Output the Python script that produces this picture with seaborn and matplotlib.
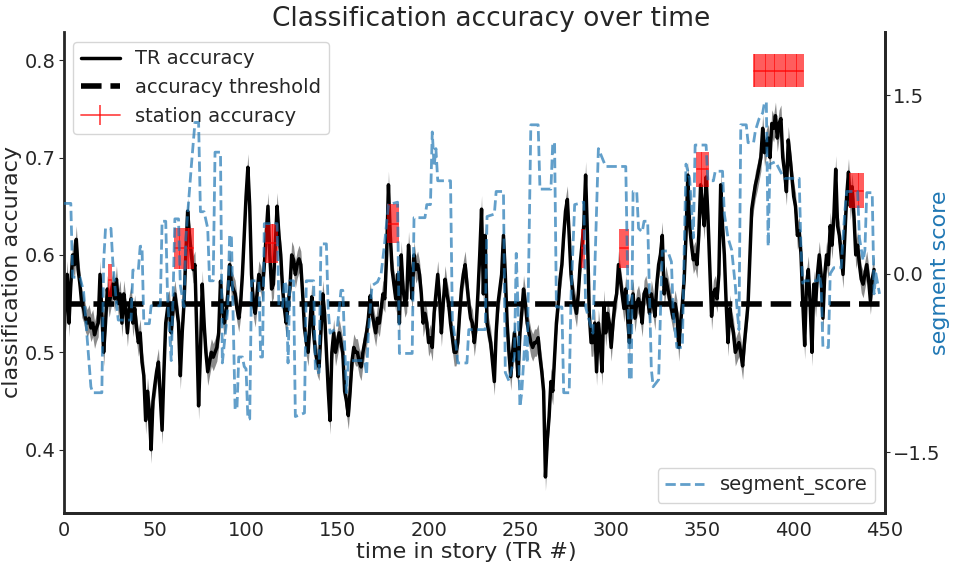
import numpy as np
import matplotlib
matplotlib.use("Agg")
import matplotlib.pyplot as plt
import seaborn as sns

# TR accuracy (one value per TR)
tr_acc = [
    0.50, 0.55, 0.58, 0.53, 0.57, 0.60, 0.59, 0.616, 0.585, 0.57,
    0.55, 0.545, 0.535, 0.53, 0.535, 0.525, 0.53, 0.518, 0.525, 0.53,
    0.58, 0.54, 0.50, 0.53, 0.565, 0.55, 0.56, 0.57, 0.555, 0.575,
    0.55, 0.56, 0.53, 0.56, 0.545, 0.52, 0.545, 0.555, 0.53, 0.545,
    0.525, 0.51, 0.52, 0.49, 0.476, 0.43, 0.46, 0.44, 0.40, 0.45,
    0.466, 0.48, 0.49, 0.455, 0.42, 0.48, 0.53, 0.545, 0.55, 0.52,
    0.545, 0.56, 0.545, 0.53, 0.476, 0.52, 0.55, 0.60, 0.645, 0.62,
    0.60, 0.585, 0.59, 0.52, 0.445, 0.50, 0.57, 0.53, 0.50, 0.48,
    0.49, 0.50, 0.495, 0.50, 0.505, 0.52, 0.573, 0.545, 0.53, 0.54,
    0.56, 0.59, 0.57, 0.565, 0.56, 0.545, 0.535, 0.55, 0.58, 0.62,
    0.66, 0.69, 0.65, 0.58, 0.55, 0.54, 0.56, 0.58, 0.575, 0.565,
    0.59, 0.62, 0.65, 0.60, 0.565, 0.57, 0.61, 0.65, 0.62, 0.60,
    0.565, 0.545, 0.53, 0.55, 0.565, 0.60, 0.595, 0.58, 0.59, 0.596,
    0.59, 0.56, 0.525, 0.51, 0.50, 0.53, 0.557, 0.52, 0.50, 0.49,
    0.485, 0.52, 0.56, 0.54, 0.50, 0.462, 0.43, 0.50, 0.52, 0.50,
    0.51, 0.52, 0.51, 0.50, 0.46, 0.45, 0.435, 0.46, 0.49, 0.505,
    0.50, 0.50, 0.49, 0.485, 0.50, 0.51, 0.52, 0.535, 0.558, 0.54,
    0.53, 0.52, 0.535, 0.53, 0.545, 0.56, 0.555, 0.60, 0.672, 0.62,
    0.585, 0.57, 0.555, 0.58, 0.53, 0.60, 0.565, 0.55, 0.555, 0.61,
    0.58, 0.555, 0.60, 0.585, 0.59, 0.58, 0.56, 0.53, 0.54, 0.53,
    0.51, 0.515, 0.505, 0.54, 0.56, 0.58, 0.555, 0.52, 0.55, 0.575,
    0.56, 0.55, 0.53, 0.515, 0.50, 0.50, 0.51, 0.54, 0.565, 0.58,
    0.59, 0.57, 0.55, 0.535, 0.53, 0.51, 0.525, 0.56, 0.60, 0.647,
    0.56, 0.62, 0.53, 0.52, 0.51, 0.49, 0.47, 0.52, 0.55, 0.565,
    0.58, 0.62, 0.58, 0.53, 0.50, 0.475, 0.50, 0.52, 0.50, 0.475,
    0.52, 0.54, 0.565, 0.55, 0.53, 0.52, 0.51, 0.505, 0.51, 0.51,
    0.515, 0.495, 0.48, 0.46, 0.372, 0.41, 0.434, 0.47, 0.46, 0.495,
    0.53, 0.55, 0.575, 0.59, 0.62, 0.645, 0.657, 0.62, 0.58, 0.56,
    0.55, 0.54, 0.56, 0.59, 0.61, 0.63, 0.682, 0.62, 0.54, 0.51,
    0.51, 0.53, 0.48, 0.53, 0.51, 0.48, 0.55, 0.52, 0.54, 0.53,
    0.505, 0.53, 0.55, 0.56, 0.59, 0.575, 0.56, 0.545, 0.565, 0.535,
    0.51, 0.55, 0.56, 0.535, 0.55, 0.555, 0.545, 0.53, 0.56, 0.565,
    0.555, 0.54, 0.56, 0.55, 0.537, 0.57, 0.59, 0.60, 0.62, 0.56,
    0.575, 0.565, 0.555, 0.545, 0.535, 0.55, 0.54, 0.505, 0.53, 0.55,
    0.575, 0.62, 0.682, 0.63, 0.61, 0.595, 0.60, 0.59, 0.62, 0.672,
    0.65, 0.63, 0.68, 0.64, 0.59, 0.537, 0.56, 0.565, 0.555, 0.58,
    0.672, 0.63, 0.60, 0.55, 0.51, 0.545, 0.53, 0.52, 0.50, 0.505,
    0.51, 0.50, 0.486, 0.51, 0.53, 0.55, 0.60, 0.647, 0.66, 0.672,
    0.68, 0.69, 0.70, 0.73, 0.705, 0.715, 0.72, 0.70, 0.735, 0.73,
    0.743, 0.72, 0.735, 0.74, 0.70, 0.685, 0.665, 0.718, 0.70, 0.68,
    0.66, 0.65, 0.62, 0.625, 0.60, 0.55, 0.507, 0.57, 0.585, 0.55,
    0.50, 0.57, 0.55, 0.58, 0.60, 0.58, 0.535, 0.58, 0.60, 0.59,
    0.63, 0.61, 0.64, 0.688, 0.63, 0.62, 0.60, 0.58, 0.62, 0.66,
    0.685, 0.65, 0.67, 0.64, 0.60, 0.61, 0.59, 0.575, 0.57, 0.58,
    0.59, 0.575, 0.553, 0.575, 0.585,
]
tr_sem = 0.014
threshold = 0.55

# segment score (right axis), corner points of the step line
seg_tr = [
    0, 4, 5, 9, 11, 12, 15, 16, 21, 22, 23, 26, 27, 29, 30, 37, 38, 41, 42, 43,
    44, 47, 48, 53, 54, 56, 57, 59, 60, 61, 63, 64, 66, 67, 70, 72, 74, 75, 77, 79,
    80, 82, 83, 86, 87, 88, 90, 91, 92, 94, 95, 96, 98, 99, 100, 101, 102, 103, 107, 108,
    109, 110, 117, 118, 120, 121, 122, 123, 124, 126, 127, 132, 133, 137, 138, 140, 141, 144, 145, 146,
    150, 152, 153, 154, 155, 156, 165, 166, 167, 169, 172, 174, 176, 178, 183, 184, 191, 192, 198, 199,
    201, 202, 203, 204, 205, 212, 213, 215, 216, 221, 222, 231, 232, 236, 237, 241, 242, 244, 247, 248,
    249, 250, 251, 253, 254, 256, 260, 261, 267, 268, 269, 270, 273, 274, 277, 278, 280, 285, 286, 289,
    290, 293, 297, 308, 309, 310, 311, 312, 314, 315, 317, 318, 320, 322, 323, 326, 327, 328, 331, 333,
    334, 336, 339, 340, 341, 343, 345, 346, 352, 353, 356, 357, 361, 362, 364, 366, 368, 369, 370, 371,
    374, 375, 378, 379, 381, 383, 384, 385, 386, 387, 390, 393, 395, 403, 404, 405, 406, 413, 414, 415,
    416, 419, 420, 422, 426, 427, 428, 429, 435, 436, 438, 439, 440, 443, 444, 445, 447,
]
seg_score = [
    0.59, 0.59, -0.03, -0.03, -0.15, -0.35, -0.95, -1.0, -1.0, 0.1, 0.38, 0.38, 0.1, -0.25, -0.39, -0.39, 0.03, 0.03, 0.23, 0.23,
    -0.42, -0.42, -0.27, -0.27, 0.44, 0.44, -0.2, -0.73, -0.2, 0.46, 0.46, -0.1, -0.28, 0.3, 0.9, 1.27, 1.27, 0.52, 0.52, 0.38,
    -0.06, -0.06, 1.02, 1.02, -0.75, -0.6, -0.3, 0.33, 0.3, -1.14, -1.14, -0.7, -0.7, -0.78, -0.8, -1.22, -1.22, -0.06, -0.06, -0.7,
    -0.7, 0.42, 0.42, -0.28, -0.28, -0.06, -0.1, -0.75, -0.06, -0.06, -1.2, -1.17, -0.06, -0.06, -0.83, -0.83, 0.25, 0.25, -0.3, -0.5,
    -0.45, -0.14, -0.14, -0.6, -1.0, -0.73, -0.73, -0.85, -0.5, -0.1, -0.07, 0.0, 0.27, 0.58, 0.6, -0.67, -0.67, 0.47, 0.47, 0.58,
    0.58, 1.19, 0.9, 1.05, 0.78, 0.78, -0.39, -0.6, -0.75, -0.75, -0.47, -0.47, 0.48, 0.5, 0.69, 0.69, -0.83, -0.9, -0.7, 0.17,
    -0.3, -1.12, -1.0, -0.5, -0.75, 1.25, 1.25, 0.71, 0.71, 1.1, 1.1, -0.28, -0.28, -1.0, -1.0, -0.2, 0.58, 0.6, -0.28, -0.45,
    -0.5, 1.05, 0.9, 0.9, 0.0, -0.89, -0.89, 0.69, 0.69, 0.38, 0.35, 0.44, 0.44, -0.8, -0.95, -0.89, -0.33, 0.19, 0.19, 0.1,
    -0.33, -0.62, -0.62, 0.2, 0.92, 0.8, 0.3, 1.08, 1.08, 0.78, 0.78, 0.86, 0.86, 0.5, 0.3, 0.2, -0.1, -0.3, -0.47, 1.25,
    1.25, 1.1, 1.1, 1.2, 1.3, 1.35, 1.44, 1.44, 0.23, 0.92, 0.94, 0.85, 0.8, 0.8, 0.2, -0.08, -0.06, -0.06, 0.0, -0.1,
    -0.62, -0.62, 0.0, 0.05, 0.05, 0.3, 0.52, 0.69, 0.69, 0.3, 0.11, 0.2, 0.68, 0.68, -0.17, 0.0, -0.17,
]

# stations: first TR, last TR, accuracy, error
station_start = [25, 61, 111, 178, 284, 305, 347, 378, 431]
station_end = [26, 71, 117, 183, 285, 309, 353, 405, 438]
station_acc = [0.574, 0.607, 0.612, 0.632, 0.607, 0.607, 0.688, 0.789, 0.666]
station_err = [0.017, 0.021, 0.02, 0.02, 0.02, 0.02, 0.018, 0.017, 0.018]

sns.set_style("white")
plt.rcParams["axes.edgecolor"] = "#262626"
plt.rcParams["axes.linewidth"] = 2.0

fig = plt.figure(figsize=(9.55, 5.62), dpi=100)
ax = fig.add_axes([0.0665, 0.0872, 0.8602, 0.856])

tr = np.arange(len(tr_acc))
acc = np.array(tr_acc)
ax.fill_between(tr, acc - tr_sem, acc + tr_sem, color="#7f7f7f", alpha=0.9, lw=0)
sns.lineplot(x=tr, y=acc, ax=ax, color="black", lw=2.5, label="TR accuracy")
ax.axhline(threshold, color="black", ls="--", lw=4, label="accuracy threshold")

for i in range(len(station_acc)):
    xs = np.arange(station_start[i], station_end[i] + 1)
    ax.errorbar(xs, np.full(len(xs), station_acc[i]), yerr=station_err[i],
                color="red", alpha=0.7, lw=1.3,
                label="station accuracy" if i == 0 else None)

ax.set_xlim(0, 450)
ax.set_ylim(0.335, 0.829)
ax.set_yticks([0.4, 0.5, 0.6, 0.7, 0.8])
ax.set_xticks(range(0, 451, 50))
ax.tick_params(labelsize=14, pad=2)
ax.set_xlabel("time in story (TR #)", fontsize=16)
ax.set_ylabel("classification accuracy", fontsize=16)
ax.xaxis.set_label_coords(0.49, -0.06)
ax.yaxis.set_label_coords(-0.05, 0.5)
ax.set_title("Classification accuracy over time", fontsize=19, pad=2, x=0.52)
ax.spines["top"].set_visible(False)
ax.legend(loc="upper left", fontsize=14, frameon=True)

ax2 = ax.twinx()
sns.lineplot(x=seg_tr, y=seg_score, ax=ax2, color="tab:blue", alpha=0.7,
             lw=2, ls="--", label="segment_score")
ax2.set_ylim(-2.01, 2.03)
ax2.set_yticks([-1.5, 0.0, 1.5])
ax2.tick_params(labelsize=14, pad=2)
ax2.set_ylabel("segment score", fontsize=16, color="tab:blue")
ax2.yaxis.set_label_coords(1.055, 0.5)
ax2.spines["top"].set_visible(False)
ax2.spines["left"].set_visible(False)
ax2.legend(loc="lower right", fontsize=14, frameon=True)

fig.savefig("out.png", dpi=100)
